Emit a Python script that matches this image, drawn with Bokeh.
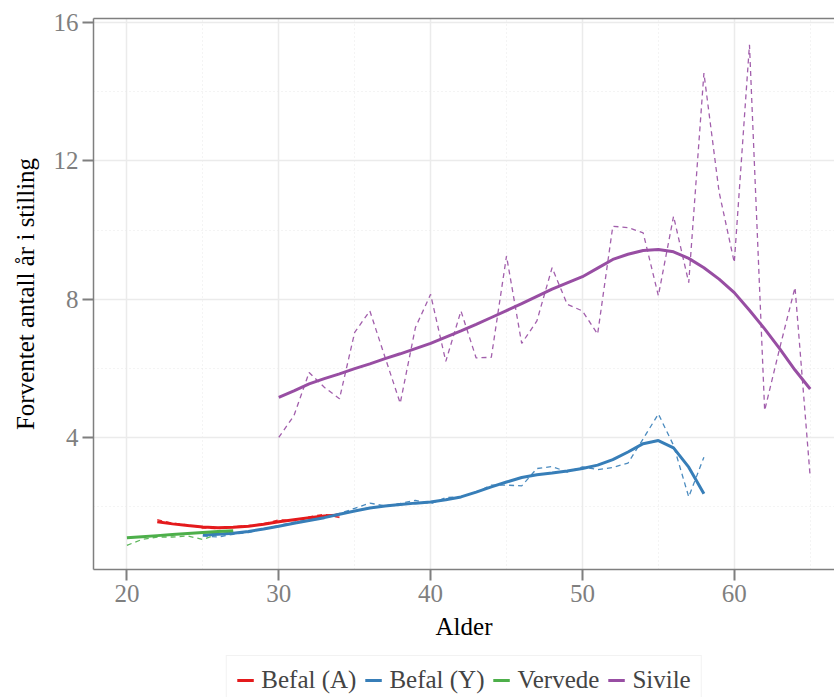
from bokeh.plotting import figure
from bokeh.models import Range1d, FixedTicker, LinearAxis, Legend, LegendItem
from bokeh.layouts import column
from bokeh.embed import file_html
from bokeh.resources import INLINE

# ---------------- data ----------------
age_vervede = list(range(20, 28))
vervede_obs = [0.88, 1.05, 1.12, 1.12, 1.15, 1.05, 1.20, 1.28]
vervede_fit = [1.10, 1.13, 1.16, 1.19, 1.22, 1.25, 1.28, 1.30]

age_befal_a = list(range(22, 35))
befal_a_obs = [1.62, 1.52, 1.47, 1.38, 1.36, 1.42, 1.45, 1.50, 1.62, 1.60, 1.70, 1.78, 1.68]
befal_a_fit = [1.56, 1.50, 1.45, 1.41, 1.39, 1.40, 1.43, 1.49, 1.56, 1.62, 1.68, 1.73, 1.76]

age_befal_y = list(range(25, 59))
befal_y_obs = [1.15, 1.12, 1.20, 1.25, 1.35, 1.45, 1.55, 1.62, 1.70, 1.80,
               1.95, 2.10, 2.02, 2.09, 2.18, 2.08, 2.26, 2.28, 2.42, 2.62,
               2.62, 2.60, 3.10, 3.16, 3.00, 3.15, 3.07, 3.13, 3.26, 3.96,
               4.68, 3.77, 2.28, 3.43]
befal_y_fit = [1.18, 1.20, 1.23, 1.28, 1.35, 1.43, 1.52, 1.60, 1.68, 1.78,
               1.87, 1.96, 2.02, 2.06, 2.10, 2.13, 2.20, 2.28, 2.42, 2.57,
               2.71, 2.84, 2.92, 2.97, 3.03, 3.10, 3.20, 3.36, 3.58, 3.82,
               3.91, 3.70, 3.14, 2.37]

age_sivile = list(range(30, 66))
sivile_obs = [4.00, 4.63, 5.88, 5.45, 5.12, 7.04, 7.66, 6.32, 4.99, 7.18,
              8.14, 6.20, 7.66, 6.30, 6.32, 9.25, 6.72, 7.37, 8.91, 7.85,
              7.66, 6.99, 10.11, 10.07, 9.92, 8.10, 10.40, 8.48, 14.54, 11.10,
              9.06, 15.36, 4.78, 6.60, 8.34, 2.85]
sivile_fit = [5.16, 5.35, 5.55, 5.70, 5.84, 5.99, 6.13, 6.28, 6.42, 6.57,
              6.72, 6.90, 7.08, 7.27, 7.47, 7.67, 7.87, 8.08, 8.29, 8.47,
              8.65, 8.90, 9.15, 9.30, 9.41, 9.44, 9.37, 9.18, 8.91, 8.58,
              8.19, 7.68, 7.14, 6.56, 5.95, 5.40]

x_ticks = [20, 30, 40, 50, 60]
x_minor = [25, 35, 45, 55, 65]
y_ticks = [4, 8, 12, 16]
y_minor = [2, 6, 10, 14]

series = [
    ("Befal (A)", "#E41A1C", age_befal_a, befal_a_obs, befal_a_fit),
    ("Befal (Y)", "#377EB8", age_befal_y, befal_y_obs, befal_y_fit),
    ("Vervede", "#4DAF4A", age_vervede, vervede_obs, vervede_fit),
    ("Sivile", "#984EA3", age_sivile, sivile_obs, sivile_fit),
]

FONT = "Liberation Serif"
GREY = "#7f7f7f"

# ---------------- main plot ----------------
p = figure(frame_width=741, frame_height=551,
           x_range=Range1d(17.8, 66.6), y_range=Range1d(0.18, 16.12),
           output_backend="svg", toolbar_location=None,
           min_border_left=93, min_border_right=0, min_border_top=18, min_border_bottom=84,
           x_axis_label="Alder", y_axis_label="Forventet antall år i stilling")
p.outline_line_color = None
p.background_fill_color = "white"
p.border_fill_color = "white"

xt = FixedTicker(ticks=x_ticks, minor_ticks=x_minor)
yt = FixedTicker(ticks=y_ticks, minor_ticks=y_minor)
p.xaxis.ticker = xt
p.yaxis.ticker = yt
p.xgrid.ticker = xt
p.ygrid.ticker = yt

for g in (p.xgrid[0], p.ygrid[0]):
    g.grid_line_color = "#ebebeb"
    g.grid_line_width = 1.5
    g.minor_grid_line_color = "#e8e8e8"
    g.minor_grid_line_width = 1
    g.minor_grid_line_dash = "1 3"

for ax in (p.xaxis[0], p.yaxis[0]):
    ax.axis_line_color = GREY
    ax.axis_line_width = 1.5
    ax.major_tick_line_color = GREY
    ax.major_tick_line_width = 2
    ax.major_tick_out = 11
    ax.major_tick_in = 0
    ax.minor_tick_line_color = None
    ax.major_label_text_font = FONT
    ax.major_label_text_font_size = "25px"
    ax.major_label_text_color = GREY
    ax.axis_label_text_font = FONT
    ax.axis_label_text_font_size = "25px"
    ax.axis_label_text_font_style = "normal"
    ax.axis_label_text_color = "black"
p.xaxis.major_label_standoff = 4
p.xaxis.axis_label_standoff = 8
p.yaxis.major_label_standoff = 4
p.yaxis.axis_label_standoff = 12

top = LinearAxis(ticker=FixedTicker(ticks=[]), axis_line_color=GREY, axis_line_width=1.5,
                 major_tick_line_color=None, minor_tick_line_color=None,
                 major_label_text_font_size="1px")
p.add_layout(top, "above")

for name, col, ages, obs, fit in series:
    p.line(ages, obs, line_color=col, line_width=1.3, line_dash="5 4", line_alpha=0.9)
for name, col, ages, obs, fit in series:
    p.line(ages, fit, line_color=col, line_width=3)

# ---------------- legend strip ----------------
leg = figure(width=834, height=44, x_range=Range1d(0, 1), y_range=Range1d(0, 1),
             output_backend="svg", toolbar_location=None,
             x_axis_type=None, y_axis_type=None,
             min_border_left=0, min_border_right=0, min_border_top=0, min_border_bottom=0)
leg.outline_line_color = None
leg.grid.visible = False
items = []
for name, col, ages, obs, fit in series:
    r = leg.line(ages, fit, line_color=col, line_width=3)  # lies outside this strip's view
    items.append(LegendItem(label=name, renderers=[r]))

legend = Legend(items=items, orientation="horizontal", location="top_center",
                label_text_font=FONT, label_text_font_size="25px",
                glyph_width=17, glyph_height=20, label_standoff=8, spacing=8,
                padding=10, margin=2, border_line_color="#e6e6e6", border_line_width=1)
leg.add_layout(legend, "center")

layout = column(p, leg, spacing=0)
open("out.html", "w").write(file_html(layout, INLINE))
